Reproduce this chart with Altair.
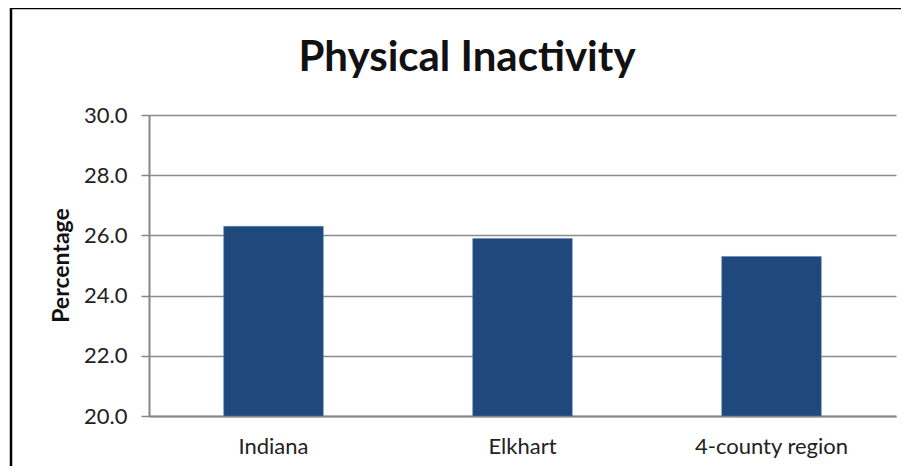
import altair as alt
import pandas as pd

categories = ["Indiana", "Elkhart", "4-county region"]
values = [26.3, 25.9, 25.3]
y_ticks = [20, 22, 24, 26, 28, 30]
title_text = ["Physical Inactivity"]

df = pd.DataFrame({"region": categories, "pct": values})
tdf = pd.DataFrame({"t": title_text})

FONT = "Lato"

bars = alt.Chart(df).mark_bar(color="#1F497D", stroke="#5a7fb0", strokeWidth=0.5).encode(
    x=alt.X("region:N", sort=categories,
            scale=alt.Scale(paddingInner=0.6, paddingOuter=0.3),
            axis=alt.Axis(title=None, labelAngle=0, labelFontSize=22, labelFont=FONT,
                          labelColor="#222222", ticks=False, labelPadding=20,
                          domainColor="#868686", domainWidth=2, grid=False)),
    y=alt.Y("pct:Q", scale=alt.Scale(domain=[20, 30], nice=False, zero=False, clamp=True),
            axis=alt.Axis(title="Percentage", values=y_ticks, format=".1f",
                          labelFontSize=22, labelFont=FONT, labelColor="#222222",
                          labelPadding=14, tickSize=8, tickColor="#868686", tickWidth=1.5,
                          domainColor="#868686", domainWidth=2,
                          gridColor="#8c8c8c", gridWidth=1.5,
                          titleFont=FONT, titleFontSize=23, titleFontWeight="bold",
                          titleColor="#111111", titleAngle=-90, titleAlign="center",
                          titleBaseline="middle", titleX=-88, titleY=150)),
)

title = alt.Chart(tdf).mark_text(font=FONT, fontSize=42, fontWeight="bold", color="#111111",
                                 align="center", baseline="middle").encode(
    text="t:N", x=alt.value(318), y=alt.value(-57)
)

border = alt.Chart(tdf).mark_rect(fill=None, stroke="#000000", strokeWidth=2.5, clip=False).encode(
    x=alt.value(-138), x2=alt.value(780), y=alt.value(-107), y2=alt.value(420)
)

chart = alt.layer(bars, title, border).properties(
    width=747, height=301,
    background="white",
    autosize=alt.AutoSizeParams(type="none"),
    padding={"left": 141, "top": 107, "right": 5, "bottom": 50},
).configure_view(stroke=None)

chart.save("out.html", embed_options={"renderer": "svg", "actions": False})
